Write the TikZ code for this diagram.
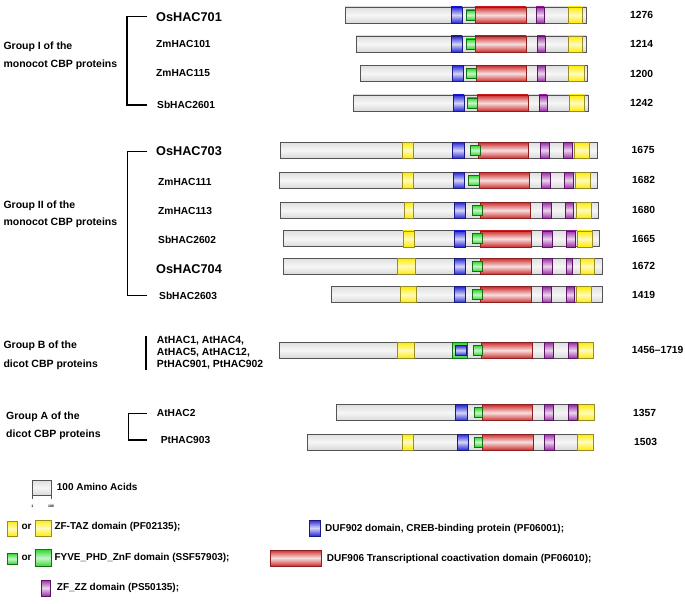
\documentclass[tikz,border=0pt]{standalone}
\usepackage{fontspec}
\setsansfont{Liberation Sans}
\definecolor{tazY}{RGB}{255,236,0}
\definecolor{tazD}{RGB}{150,140,40}
\definecolor{dufB}{RGB}{40,40,215}
\definecolor{dufBD}{RGB}{25,25,130}
\definecolor{dufR}{RGB}{205,45,45}
\definecolor{dufRD}{RGB}{140,30,30}
\definecolor{fyG}{RGB}{45,215,45}
\definecolor{fyGD}{RGB}{20,110,20}
\definecolor{zzP}{RGB}{155,45,165}
\definecolor{zzPD}{RGB}{90,20,100}
\begin{document}
\begin{tikzpicture}[x=1pt, y=-1pt,
  prot/.style={draw=gray!65!black, line width=0.7pt, top color=gray!25, bottom color=gray!30, middle color=gray!7},
  taz/.style={draw=tazD, line width=0.6pt, top color=tazY, bottom color=tazY, middle color=tazY!25},
  duf902/.style={draw=dufBD, line width=0.6pt, top color=dufB, bottom color=dufB, middle color=dufB!20},
  duf906/.style={draw=dufRD, line width=0.6pt, top color=dufR, bottom color=dufR, middle color=dufR!15},
  fyve/.style={draw=fyGD, line width=0.7pt, top color=fyG, bottom color=fyG, middle color=fyG!25},
  zz/.style={draw=zzPD, line width=0.6pt, top color=zzP, bottom color=zzP, middle color=zzP!20},
  pname/.style={font=\sffamily\bfseries\fontsize{10.2}{12}\selectfont, anchor=west, inner sep=0pt},
  bigname/.style={pname, font=\sffamily\bfseries\fontsize{12.7}{14}\selectfont},
  len/.style={pname, font=\sffamily\bfseries\fontsize{10.3}{12}\selectfont},
  grp/.style={pname, align=left, font=\sffamily\bfseries\fontsize{10.5}{12.6}\selectfont},
  legtext/.style={pname, font=\sffamily\bfseries\fontsize{10}{12}\selectfont},
  brk/.style={draw, line width=1.3pt}
]
\useasboundingbox (0,0) rectangle (685,604);

% group labels
\node[grp] (grpI) at (3.3,56.2) {Group I of the\\[5.5pt]monocot CBP proteins};
\node[grp] (grpII) at (3.3,214.7) {Group II of the\\[4.5pt]monocot CBP proteins};
\node[grp] (grpB) at (3.3,355.3) {Group B of the\\[6.5pt]dicot CBP proteins};
\node[grp] (grpA) at (6,425.5) {Group A of the\\[5pt]dicot CBP proteins};

% protein names
\node[bigname] (os701) at (156,16.7) {OsHAC701};
\node[pname] (zm101) at (156,44) {ZmHAC101};
\node[pname] (zm115) at (156,73) {ZmHAC115};
\node[pname] (sb2601) at (157,105) {SbHAC2601};
\node[bigname] (os703) at (156,151.3) {OsHAC703};
\node[pname] (zm111) at (158,181.7) {ZmHAC111};
\node[pname] (zm113) at (158,210.7) {ZmHAC113};
\node[pname] (sb2602) at (158,240) {SbHAC2602};
\node[bigname] (os704) at (156,269.3) {OsHAC704};
\node[pname] (sb2603) at (159,295.7) {SbHAC2603};
\node[pname, align=left, font=\sffamily\bfseries\fontsize{10.4}{12.2}\selectfont] (dicotB) at (156.7,352.8) {AtHAC1, AtHAC4,\\AtHAC5, AtHAC12,\\PtHAC901, PtHAC902};
\node[pname] (at2) at (156.7,413.3) {AtHAC2};
\node[pname] (pt903) at (160.7,440) {PtHAC903};

% brackets
\draw[brk] ([xshift=-9]os701.west) -- ++(-20,0) |- ([xshift=-10]sb2601.west);
\draw[brk] ([xshift=-9]os703.west) -- ++(-19.3,0) |- ([xshift=-12]sb2603.west);
\draw[brk, line width=2pt] ([xshift=-10.7]dicotB.north west) -- ([xshift=-10.7]dicotB.south west);
\draw[brk] ([xshift=-10]at2.west) -- ++(-18.4,0) |- ([xshift=-14]pt903.west);

% lengths
\node[len] (l701) at (630,15) {1276};
\node[len] (l101) at (630,44) {1214};
\node[len] (l115) at (630,73.5) {1200};
\node[len] (l2601) at (630,103) {1242};
\node[len] (l703) at (631.5,150.3) {1675};
\node[len] (l111) at (632,180.3) {1682};
\node[len] (l113) at (632,210.3) {1680};
\node[len] (l2602) at (632,238.8) {1665};
\node[len] (l704) at (632,266.3) {1672};
\node[len] (l2603) at (632,294.7) {1419};
\node[len] (lB) at (631.7,350.3) {1456--1719};
\node[len] (l2) at (633,412.7) {1357};
\node[len] (l903) at (634,442) {1503};

% OsHAC701
\begin{scope}[shift={(0,15)}]
  \path[prot] (345,-8) rectangle (586,8);
  \path[duf902] (451,-8) rectangle (462,8);
  \path[duf906] (475,-8) rectangle (526,8);
  \path[fyve] (466,-5) rectangle (475,5);
  \path[zz] (536,-8) rectangle (544,8);
  \path[taz] (568,-8) rectangle (582,8);
\end{scope}
% ZmHAC101
\begin{scope}[shift={(0,44)}]
  \path[prot] (356,-8) rectangle (586,8);
  \path[duf902] (451,-8) rectangle (462,8);
  \path[duf906] (475,-8) rectangle (526,8);
  \path[fyve] (466,-5) rectangle (475,5);
  \path[zz] (537,-8) rectangle (545,8);
  \path[taz] (568,-8) rectangle (582,8);
\end{scope}
% ZmHAC115
\begin{scope}[shift={(0,73.5)}]
  \path[prot] (360,-8) rectangle (587,8);
  \path[duf902] (452,-8) rectangle (463,8);
  \path[duf906] (476,-8) rectangle (526,8);
  \path[fyve] (466,-5) rectangle (476,5);
  \path[zz] (537,-8) rectangle (545,8);
  \path[taz] (568,-8) rectangle (584,8);
\end{scope}
% SbHAC2601
\begin{scope}[shift={(0,103)}]
  \path[prot] (353,-8) rectangle (588,8);
  \path[duf902] (453,-8) rectangle (464,8);
  \path[duf906] (477,-8) rectangle (528,8);
  \path[fyve] (467,-5) rectangle (477,5);
  \path[zz] (539,-8) rectangle (547,8);
  \path[taz] (569,-8) rectangle (584,8);
\end{scope}

% OsHAC703
\begin{scope}[shift={(0,150.3)}]
  \path[prot] (280,-8) rectangle (597,8);
  \path[taz] (402,-8) rectangle (413,8);
  \path[duf902] (452,-8) rectangle (464,8);
  \path[duf906] (478,-8) rectangle (528,8);
  \path[fyve] (470,-5) rectangle (480,5);
  \path[zz] (540,-8) rectangle (549,8);
  \path[zz] (563,-8) rectangle (572,8);
  \path[taz] (574,-8) rectangle (589,8);
\end{scope}
% ZmHAC111
\begin{scope}[shift={(0,180.3)}]
  \path[prot] (279,-8) rectangle (597,8);
  \path[taz] (402,-8) rectangle (413,8);
  \path[duf902] (453,-8) rectangle (464,8);
  \path[duf906] (479,-8) rectangle (529,8);
  \path[fyve] (468,-5) rectangle (479,5);
  \path[zz] (541,-8) rectangle (550,8);
  \path[zz] (564,-8) rectangle (573,8);
  \path[taz] (575,-8) rectangle (590,8);
\end{scope}
% ZmHAC113
\begin{scope}[shift={(0,210.3)}]
  \path[prot] (280,-8) rectangle (598,8);
  \path[taz] (404,-8) rectangle (413,8);
  \path[duf902] (454,-8) rectangle (465,8);
  \path[duf906] (480,-8) rectangle (530,8);
  \path[fyve] (472,-5) rectangle (482,5);
  \path[zz] (542,-8) rectangle (551,8);
  \path[zz] (565,-8) rectangle (573,8);
  \path[taz] (576,-8) rectangle (591,8);
\end{scope}
% SbHAC2602
\begin{scope}[shift={(0,238.8)}]
  \path[prot] (283,-8) rectangle (599,8);
  \path[taz] (403,-8) rectangle (414,8);
  \path[duf902] (454,-8) rectangle (465,8);
  \path[duf906] (480,-8) rectangle (531,8);
  \path[fyve] (472,-5) rectangle (482,5);
  \path[zz] (542,-8) rectangle (552,8);
  \path[zz] (566,-8) rectangle (575,8);
  \path[taz] (577,-8) rectangle (592,8);
\end{scope}
% OsHAC704
\begin{scope}[shift={(0,266.3)}]
  \path[prot] (283,-8) rectangle (602,8);
  \path[taz] (397,-8) rectangle (415,8);
  \path[duf902] (454,-8) rectangle (465,8);
  \path[duf906] (480,-8) rectangle (531,8);
  \path[fyve] (472,-5) rectangle (482,5);
  \path[zz] (542,-8) rectangle (552,8);
  \path[zz] (566,-8) rectangle (572,8);
  \path[taz] (580,-8) rectangle (594,8);
\end{scope}
% SbHAC2603
\begin{scope}[shift={(0,294.7)}]
  \path[prot] (331,-8) rectangle (602,8);
  \path[taz] (400,-8) rectangle (416,8);
  \path[duf902] (454,-8) rectangle (465,8);
  \path[duf906] (480,-8) rectangle (531,8);
  \path[fyve] (472,-5) rectangle (482,5);
  \path[zz] (542,-8) rectangle (551,8);
  \path[zz] (566,-8) rectangle (574,8);
  \path[taz] (576,-8) rectangle (591,8);
\end{scope}

% group B
\begin{scope}[shift={(0,350.3)}]
  \path[prot] (279,-8) rectangle (593,8);
  \path[taz] (397,-8) rectangle (414,8);
  \path[fyve] (452,-8) rectangle (467.5,8);
  \path[duf902] (455.7,-5) rectangle (466,5);
  \path[duf906] (481.5,-8) rectangle (532,8);
  \path[fyve] (473.5,-5) rectangle (482,5);
  \path[zz] (544,-8) rectangle (553,8);
  \path[zz] (568,-8) rectangle (577,8);
  \path[taz] (578,-8) rectangle (593,8);
\end{scope}

% AtHAC2
\begin{scope}[shift={(0,412.7)}]
  \path[prot] (336,-8) rectangle (594,8);
  \path[duf902] (455,-8) rectangle (467,8);
  \path[duf906] (482,-8) rectangle (532,8);
  \path[fyve] (474,-5) rectangle (482,5);
  \path[zz] (544,-8) rectangle (553,8);
  \path[zz] (568,-8) rectangle (577,8);
  \path[taz] (578,-8) rectangle (594,8);
\end{scope}
% PtHAC903
\begin{scope}[shift={(0,442)}]
  \path[prot] (307,-8) rectangle (593,8);
  \path[taz] (402,-8) rectangle (413,8);
  \path[duf902] (457,-8) rectangle (468,8);
  \path[duf906] (482,-8) rectangle (533,8);
  \path[fyve] (474,-5) rectangle (482,5);
  \path[zz] (544,-8) rectangle (554,8);
  \path[taz] (577,-8) rectangle (593,8);
\end{scope}

% legend
\path[prot] (32.3,480.3) rectangle (51.7,495.3);
\draw[gray!65!black, line width=0.5pt] (32.3,495.3) -- (32.3,498.5) (51.7,495.3) -- (51.7,498.5);
\node[pname, anchor=center, font=\sffamily\bfseries\fontsize{3.5}{4}\selectfont] (tick1) at (32.3,506) {1};
\node[pname, anchor=center, font=\sffamily\bfseries\fontsize{3.5}{4}\selectfont] (tick100) at (51,506) {100};
\node[legtext] (scale) at (56.7,486.7) {100 Amino Acids};

\path[taz] (7,521) rectangle (17.3,536);
\node[legtext, anchor=center] (or1) at (26.5,527.3) {or};
\path[taz] (35.7,520) rectangle (51,536);
\node[legtext] (keytaz) at (54.3,527.3) {ZF-TAZ domain (PF02135);};

\path[fyve] (7.7,553.3) rectangle (17.3,564.3);
\node[legtext, anchor=center] (or2) at (26.5,558.3) {or};
\path[fyve] (35,549.3) rectangle (51,566.7);
\node[legtext] (keyfyve) at (54.3,558.3) {FYVE\_PHD\_ZnF domain (SSF57903);};

\path[zz] (41.7,580) rectangle (50,596);
\node[legtext] (keyzz) at (56.7,588) {ZF\_ZZ domain (PS50135);};

\path[duf902] (309.3,520) rectangle (320.7,536);
\node[legtext] (keyduf902) at (325,528.5) {DUF902 domain, CREB-binding protein (PF06001);};

\path[duf906] (270,550) rectangle (321.7,566);
\node[legtext] (keyduf906) at (326.7,559.3) {DUF906 Transcriptional coactivation domain (PF06010);};
\end{tikzpicture}
\end{document}
